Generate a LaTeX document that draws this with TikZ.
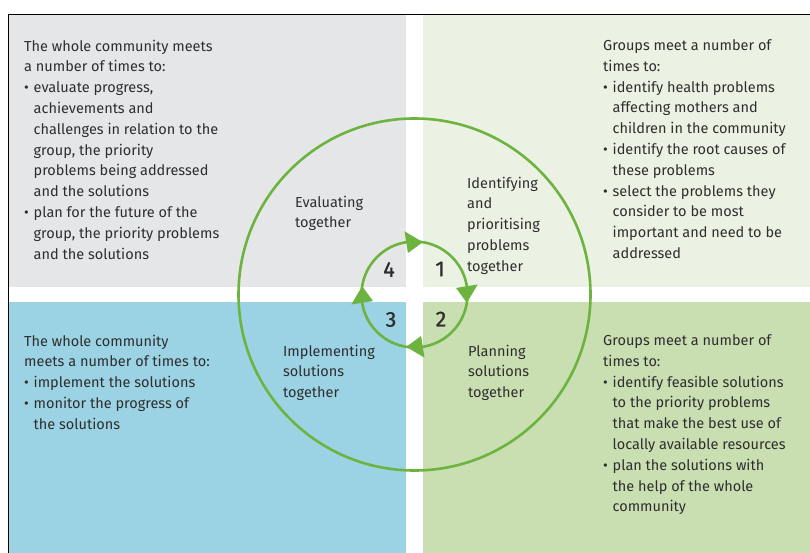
\documentclass[tikz,border=0pt]{standalone}
\usepackage{fontspec}
\setmainfont{Fira Sans}
\newfontfamily\numfont[FakeBold=0.9]{Fira Sans}
\usepackage{xcolor}

\definecolor{evalgray}{HTML}{E5E6E8}
\definecolor{identgreen}{HTML}{ECF2E3}
\definecolor{implblue}{HTML}{9BD3E4}
\definecolor{plangreen}{HTML}{C9DFB2}
\definecolor{cyclegreen}{HTML}{6DB33F}
\definecolor{txt}{HTML}{2E2E2E}

\newcommand{\itm}{\makebox[9.5pt][l]{•}}
\newcommand{\ind}{\hspace*{9.5pt}}

\tikzset{
  box/.style={anchor=north west, inner sep=0pt, align=left, text=txt,
    font=\fontsize{14.5}{20.8}\selectfont},
  num/.style={inner sep=0pt, text=txt, font=\numfont\fontsize{21.5}{22}\selectfont},
}

\begin{document}
\begin{tikzpicture}[x=1pt,y=-1pt]
\useasboundingbox (0,0) rectangle (810,553);

\fill[evalgray] (9,15) rectangle (406,287);
\fill[identgreen] (423,15) rectangle (810,287);
\fill[implblue] (9,302) rectangle (406,553);
\fill[plangreen] (423,302) rectangle (810,553);
\draw[line width=1.2pt] (8.5,553) -- (8.5,14.5) -- (810,14.5);

\draw (24,39.5) node[box](TL) {The whole community meets\\
a number of times to:\\
\itm evaluate progress,\\
\ind achievements and\\
\ind challenges in relation to the\\
\ind group, the priority\\
\ind problems being addressed\\
\ind and the solutions\\
\itm plan for the future of the\\
\ind group, the priority problems\\
\ind and the solutions};

\draw (603,39.5) node[box](TR) {Groups meet a number of\\
times to:\\
\itm identify health problems\\
\ind affecting mothers and\\
\ind children in the community\\
\itm identify the root causes of\\
\ind these problems\\
\itm select the problems they\\
\ind consider to be most\\
\ind important and need to be\\
\ind addressed};

\draw (24,334.5) node[box](BL) {The whole community\\
meets a number of times to:\\
\itm implement the solutions\\
\itm monitor the progress of\\
\ind the solutions};

\draw (603,334.5) node[box](BR) {Groups meet a number of\\
times to:\\
\itm identify feasible solutions\\
\ind to the priority problems\\
\ind that make the best use of\\
\ind locally available resources\\
\itm plan the solutions with\\
\ind the help of the whole\\
\ind community};

\draw (295,195.5) node[box](E) {Evaluating\\together};
\draw (467,176.5) node[box](I) {Identifying\\and\\prioritising\\problems\\together};
\draw (283,344.5) node[box](Im) {Implementing\\solutions\\together};
\draw (468,344.5) node[box](Pl) {Planning\\solutions\\together};

\coordinate (hub) at (414.5,294.5);
\draw[cyclegreen,line width=2.6pt] (hub) circle[radius=176pt];
\draw[cyclegreen,line width=2.6pt] (hub) circle[radius=53pt];
\foreach \a in {-90,0,90,180}
  \fill[cyclegreen,shift={(hub)}] (\a+9:53) -- (\a-9:42) -- (\a-9:64) -- cycle;

\draw (440,269) node[num](n1) {1};
\draw (441,319) node[num](n2) {2};
\draw (391,319.5) node[num](n3) {3};
\draw (389,269.5) node[num](n4) {4};

\end{tikzpicture}
\end{document}
